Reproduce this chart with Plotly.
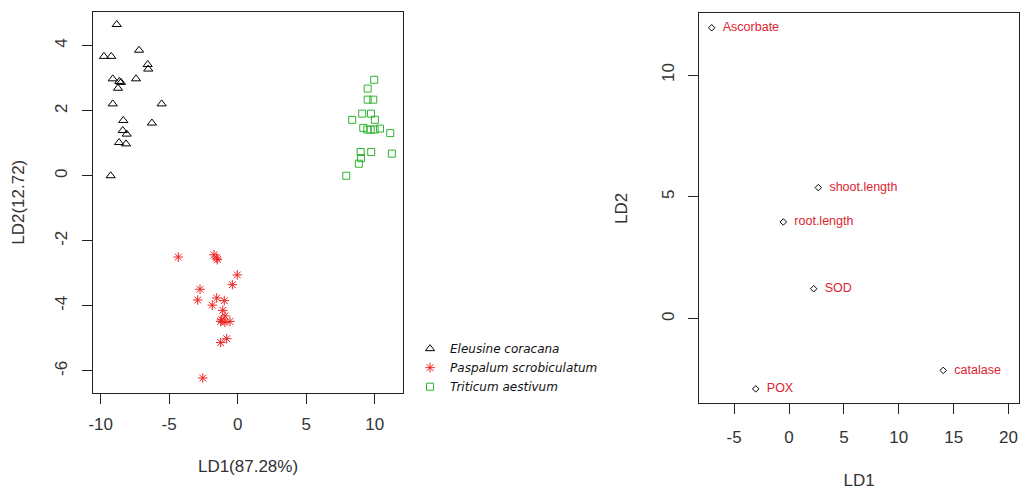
import plotly.graph_objects as go

# ---------------- data ----------------
species = ["Eleusine coracana", "Paspalum scrobiculatum", "Triticum aestivum"]

ele_ld1 = [-8.83, -9.76, -9.23, -7.20, -6.57, -6.53, -9.12, -8.64, -8.52, -7.42,
           -8.74, -9.12, -5.55, -8.35, -6.26, -8.39, -8.10, -8.66, -8.15, -9.27]
ele_ld2 = [4.65, 3.67, 3.67, 3.86, 3.42, 3.28, 2.98, 2.90, 2.87, 2.98,
           2.69, 2.21, 2.21, 1.70, 1.62, 1.39, 1.28, 1.02, 0.98, 0.00]

pas_ld1 = [-4.34, -1.73, -1.53, -1.49, -0.03, -0.39, -2.75, -2.92, -1.53, -0.98,
           -1.85, -1.09, -0.93, -1.17, -1.24, -0.56, -0.93, -0.80, -1.24, -2.55]
pas_ld2 = [-2.50, -2.43, -2.53, -2.58, -3.05, -3.35, -3.49, -3.82, -3.76, -3.84,
           -3.98, -4.14, -4.31, -4.43, -4.48, -4.48, -4.51, -5.01, -5.13, -6.22]

tri_ld1 = [9.97, 9.49, 9.49, 9.90, 9.09, 9.73, 8.36, 10.02, 9.17, 9.46,
           9.71, 10.00, 10.39, 11.14, 8.98, 9.75, 11.26, 9.00, 8.85, 7.93]
tri_ld2 = [2.95, 2.68, 2.34, 2.34, 1.91, 1.91, 1.72, 1.72, 1.47, 1.42,
           1.42, 1.42, 1.45, 1.31, 0.73, 0.73, 0.68, 0.54, 0.37, 0.00]

var_names = ["Ascorbate", "shoot.length", "root.length", "SOD", "catalase", "POX"]
var_ld1 = [-7.04, 2.67, -0.52, 2.25, 14.05, -3.03]
var_ld2 = [11.94, 5.38, 3.97, 1.23, -2.12, -2.88]

left_xticks = [-10, -5, 0, 5, 10]
left_yticks = [-6, -4, -2, 0, 2, 4]
right_xticks = [-5, 0, 5, 10, 15, 20]
right_yticks = [0, 5, 10]

# ---------------- styles ----------------
AX_FONT = "Liberation Sans, Arial, sans-serif"
LEG_FONT = "DejaVu Sans, Verdana, sans-serif"
LINE_COL = "#222222"
TXT_COL = "#333333"
RED = "#EE2222"
GREEN = "#2DB52D"
LABEL_RED = "#DC2430"


def labels(vals):
    return [str(v) for v in vals]  # plain hyphen-minus like R


fig = go.Figure()

fig.add_trace(go.Scatter(
    x=ele_ld1, y=ele_ld2, mode="markers", name=species[0],
    marker=dict(symbol="triangle-up-open", size=8, color="black", line=dict(width=1)),
    xaxis="x", yaxis="y"))
fig.add_trace(go.Scatter(
    x=pas_ld1, y=pas_ld2, mode="markers", name=species[1],
    marker=dict(symbol="asterisk-open", size=8, color=RED, line=dict(width=1, color=RED)),
    xaxis="x", yaxis="y"))
fig.add_trace(go.Scatter(
    x=tri_ld1, y=tri_ld2, mode="markers", name=species[2],
    marker=dict(symbol="square-open", size=7, color=GREEN, line=dict(width=1, color=GREEN)),
    xaxis="x", yaxis="y"))

fig.add_trace(go.Scatter(
    x=var_ld1, y=var_ld2, mode="markers+text",
    text=["\u00a0\u00a0" + n for n in var_names],
    textposition="middle right",
    textfont=dict(family=AX_FONT, size=12.5, color=LABEL_RED),
    marker=dict(symbol="diamond-open", size=5, color="black", line=dict(width=1)),
    showlegend=False, xaxis="x2", yaxis="y2"))

axis_common = dict(
    showgrid=False, zeroline=False, showline=True, mirror=True,
    linecolor=LINE_COL, linewidth=1, ticks="outside", ticklen=10, tickwidth=1,
    tickcolor=LINE_COL, tickfont=dict(family=AX_FONT, size=17, color=TXT_COL),
)

fig.update_layout(
    width=1020, height=490,
    margin=dict(l=0, r=0, t=0, b=0, autoexpand=False),
    paper_bgcolor="white", plot_bgcolor="white",
    showlegend=True,
    legend=dict(x=0.402, y=0.318, xanchor="left", yanchor="top",
                font=dict(family=LEG_FONT, size=12, color="#111111", style="italic"),
                bgcolor="rgba(0,0,0,0)", itemwidth=30),
    xaxis=dict(domain=[0.0912, 0.3951], range=[-10.56, 12.07],
               tickvals=left_xticks, ticktext=labels(left_xticks),
               anchor="y", ticklabelstandoff=6,
               title=dict(text="LD1(87.28%)", font=dict(family=AX_FONT, size=17, color=TXT_COL), standoff=26),
               **axis_common),
    yaxis=dict(domain=[0.198, 0.9765], range=[-6.68, 5.05],
               tickvals=left_yticks, ticktext=labels(left_yticks),
               anchor="x", tickangle=-90, ticklabelstandoff=8,
               title=dict(text="LD2(12.72)", font=dict(family=AX_FONT, size=17, color=TXT_COL), standoff=23),
               **axis_common),
    xaxis2=dict(domain=[0.6856, 0.999], range=[-8.17, 20.95],
                tickvals=right_xticks, ticktext=labels(right_xticks),
                anchor="y2", ticklabelstandoff=8,
                title=dict(text="LD1", font=dict(family=AX_FONT, size=17, color=TXT_COL), standoff=29),
                **axis_common),
    yaxis2=dict(domain=[0.177, 0.9727], range=[-3.47, 12.53],
                tickvals=right_yticks, ticktext=labels(right_yticks),
                anchor="x2", tickangle=-90, ticklabelstandoff=8,
                title=dict(text="LD2", font=dict(family=AX_FONT, size=17, color=TXT_COL), standoff=26),
                **axis_common),
)

fig.write_html("out.html")
